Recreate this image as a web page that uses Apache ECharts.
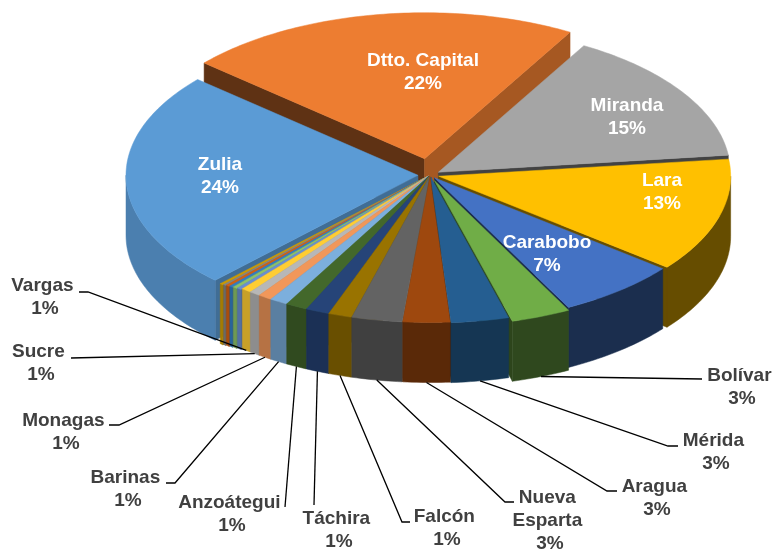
<!DOCTYPE html>
<html>
<head>
<meta charset="utf-8">
<style>
  html, body { margin: 0; padding: 0; background: #fff; }
  #chart { width: 772px; height: 552px; }
</style>
</head>
<body>
<div id="chart"></div>
<script src="https://cdn.jsdelivr.net/npm/echarts@6/dist/echarts.min.js"></script>
<script>
// values, in percent, clockwise from the first slice
const categories = ["Zulia", "Dtto. Capital", "Miranda", "Lara", "Carabobo", "Bolívar", "Mérida", "Aragua", "Nueva\nEsparta", "Falcón", "Táchira", "Anzoátegui", "Barinas", "Monagas", "Sucre", "Vargas", "", "", "", "", "", ""];
const values = [24.2, 21.95, 14.85, 12.6, 6.7, 3.3, 3.2, 2.6, 2.8, 1.3, 1.3, 1.2, 1.0, 0.75, 0.6, 0.55, 0.25, 0.25, 0.2, 0.2, 0.15, 0.2];
const colors = ["#5B9BD5", "#ED7D31", "#A5A5A5", "#FFC000", "#4472C4", "#70AD47", "#255E91", "#9E480E", "#636363", "#997300", "#264478", "#43682B", "#7CAFDD", "#F1975A", "#B7B7B7", "#FFCD33", "#698ED0", "#8CC168", "#327DC2", "#D26012", "#848484", "#CC9A00"];
// how far each slice is pulled out of the pie
const explode = [12, 33, 10, 9, 7, 12, 4, 3, 3, 3, 3, 3, 3, 3, 3, 3, 5, 6, 7, 8, 9, 10];

// label layout: [text x, text y, elbow x, elbow y, line end x, line end y]
const labelAt = {
  "Zulia": [220, 176],
  "Dtto. Capital": [423, 72],
  "Miranda": [627, 117],
  "Lara": [662, 192],
  "Carabobo": [547, 254],
  "Bolívar": [742, 387, 702, 379, 702, 379],
  "Mérida": [716, 452, 668, 446, 678, 446],
  "Aragua": [657, 498, 607, 491, 617, 491],
  "Nueva\nEsparta": [550, 521, 505, 502, 514, 502],
  "Falcón": [447, 528, 402, 522, 410, 522],
  "Táchira": [339, 530, 314, 505, 314, 505],
  "Anzoátegui": [232, 514, 285, 507, 285, 507],
  "Barinas": [128, 489, 175, 483, 166, 483],
  "Monagas": [66, 432, 119, 425, 109, 425],
  "Sucre": [41, 363, 71, 358, 71, 358],
  "Vargas": [45, 297, 88, 292, 79, 292]
};

const cx = 430, cy = 175, radius = 292, tilt = 0.5, depth = 60;
const total = values.reduce((a, b) => a + b, 0);
const firstAngle = 224;
const insideLabels = 5; // first five labels sit on the slices

let run = firstAngle;
const slices = values.map((v, i) => {
  const start = run;
  run += (v / total) * 360;
  const wrap = start >= 360 ? 360 : 0; // keep angles in one turn for the wall test
  return { start: start - wrap, end: run - wrap, mid: (start + run) / 2 - wrap, i };
});
// painter's order: back slices first
const drawOrder = slices.slice().sort((a, b) => -Math.cos(a.mid * Math.PI / 180) + Math.cos(b.mid * Math.PI / 180));
drawOrder.forEach((s, k) => { s.rank = k; });

function shade(hex, f) {
  const n = parseInt(hex.slice(1), 16);
  const c = [n >> 16, (n >> 8) & 255, n & 255].map((x) => Math.round(x * f));
  return "rgb(" + c.join(",") + ")";
}

// outer wall gets lighter towards the left
const wallShade = [[80, 0.4], [150, 0.4], [160, 0.42], [168, 0.57], [182, 0.57], [190, 0.64], [200, 0.7], [210, 0.72], [216, 0.77], [226, 0.82], [280, 0.82]];
function wallFactor(a) {
  for (let k = 1; k < wallShade.length; k++) {
    if (a <= wallShade[k][0]) {
      const p = wallShade[k - 1], q = wallShade[k];
      return p[1] + ((q[1] - p[1]) * (a - p[0])) / (q[0] - p[0]);
    }
  }
  return 0.82;
}

function renderSlice(params, api) {
  const i = api.value(0);
  const s = slices[i];
  const rad = (d) => (d * Math.PI) / 180;
  const ox = explode[i] * Math.sin(rad(s.mid));
  const oy = -explode[i] * Math.cos(rad(s.mid)) * tilt;
  const pt = (a, r, z) => [
    cx + ox + r * Math.sin(rad(a)),
    cy + oy - r * Math.cos(rad(a)) * tilt + z
  ];
  const arc = (a0, a1, z) => {
    const out = [];
    const n = Math.max(2, Math.ceil(a1 - a0));
    for (let k = 0; k <= n; k++) out.push(pt(a0 + ((a1 - a0) * k) / n, radius, z));
    return out;
  };
  const base = s.rank * 10;
  const children = [];
  const poly = (points, fill, z2) => children.push({
    type: "polygon", shape: { points }, z2: base + z2,
    style: { fill, stroke: fill, lineWidth: 0.5 }
  });

  // cut faces (only those turned to the viewer), then outer wall, then the top
  const faceFactor = (n) => { n = ((n % 360) + 360) % 360; return n > 90 && n < 150 ? 0.7 : 0.4; };
  [[s.start, s.start - 90], [s.end, s.end + 90]].forEach((f) => {
    if (Math.cos(rad(f[1])) >= 0) return;
    poly([pt(0, 0, 0), pt(f[0], radius, 0), pt(f[0], radius, depth), pt(0, 0, depth)], shade(colors[i], faceFactor(f[1])), 1);
  });
  const w0 = Math.max(s.start, 90), w1 = Math.min(s.end, 270);
  if (w1 > w0) {
    const top = arc(w0, w1, 0);
    const bottom = arc(w0, w1, depth).reverse();
    poly(top.concat(bottom), shade(colors[i], wallFactor((w0 + w1) / 2)), 2);
  }
  poly([pt(0, 0, 0)].concat(arc(s.start, s.end, 0)), colors[i], 3);

  const name = categories[i];
  const at = labelAt[name];
  if (at) {
    const inside = i < insideLabels;
    const shown = inside ? name : name.replace(/\n/g, " \n") + " "; // trailing space nudges names left of the percent
    children.push({
      type: "text", z2: 1000,
      style: {
        text: shown + "\n" + Math.round(values[i]) + "%",
        x: at[0], y: at[1],
        align: "center", verticalAlign: "middle",
        font: "bold 19px 'Liberation Sans', Arial, sans-serif",
        lineHeight: 23,
        fill: inside ? "#fff" : "#404040"
      }
    });
    if (!inside) {
      children.push({
        type: "polyline", z2: 900,
        shape: { points: [pt(s.mid, radius, depth), [at[2], at[3]], [at[4], at[5]]] },
        style: { fill: "none", stroke: "#000", lineWidth: 1.3 }
      });
    }
  }
  return { type: "group", children };
}

const chart = echarts.init(document.getElementById("chart"), null, { renderer: "canvas" });
chart.setOption({
  animation: false,
  backgroundColor: "#fff",
  series: [
    {
      type: "custom",
      coordinateSystem: "none",
      renderItem: renderSlice,
      silent: true,
      data: categories.map((c, i) => [i, values[i]])
    }
  ]
});
</script>
</body>
</html>
